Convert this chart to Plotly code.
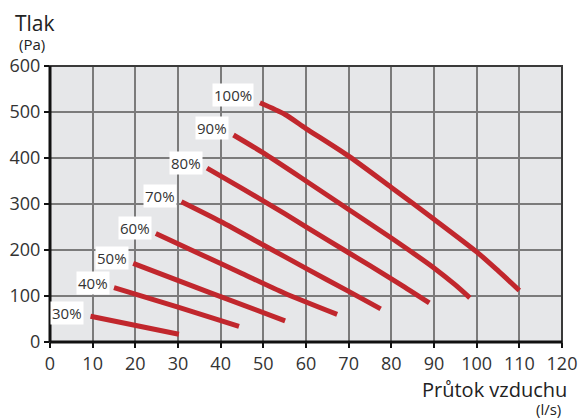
import plotly.graph_objects as go

# Fan speed curves (percent labels), airflow (l/s) vs. pressure (Pa)
labels = ["30%", "40%", "50%", "60%", "70%", "80%", "90%", "100%"]

flow_30 = [9.5, 30.2]
pres_30 = [56, 17]

flow_40 = [15, 30, 44.3]
pres_40 = [118, 76, 34]

flow_50 = [19.5, 37, 55.1]
pres_50 = [171, 109, 46]

flow_60 = [24.8, 35, 45, 55, 67.3]
pres_60 = [236, 192, 149, 106, 60]

flow_70 = [30.8, 40, 50, 60, 70, 77.5]
pres_70 = [305, 262, 211, 160, 110, 72]

flow_80 = [36.8, 45, 55, 65, 75, 82, 88.9]
pres_80 = [378, 334, 279, 222, 166, 126, 85]

flow_90 = [43, 50, 60, 70, 80, 90, 95, 98.4]
pres_90 = [450, 411, 350, 288, 226, 161, 124, 96]

flow_100 = [49.2, 55, 60, 70, 80, 90, 100, 105, 110]
pres_100 = [520, 495, 464, 404, 336, 267, 196, 155, 112]

# label anchor points (right edge of label)
label_x = [8.0, 14.0, 18.5, 23.9, 29.7, 35.9, 42.0, 47.8]
label_y = [63, 128, 183, 248, 317, 389, 465, 537]

x_ticks = list(range(0, 121, 10))
y_ticks = list(range(0, 601, 100))

flows = [flow_30, flow_40, flow_50, flow_60, flow_70, flow_80, flow_90, flow_100]
pres = [pres_30, pres_40, pres_50, pres_60, pres_70, pres_80, pres_90, pres_100]

RED = "#c1272d"
FONT = "Open Sans"
TXT = "#333333"

W, H = 579, 418
L, R, T, B = 50, 17, 66, 76
PW, PH = W - L - R, H - T - B


def paper(xp, yp):
    # pixel position in the page -> paper coordinates of the plot area
    return (xp - L) / PW, (H - B - yp) / PH


fig = go.Figure()
for lab, fx, py in zip(labels, flows, pres):
    fig.add_trace(go.Scatter(
        x=fx, y=py, mode="lines", name=lab,
        line=dict(color=RED, width=5, shape="spline", smoothing=0.7),
        hoverinfo="skip", showlegend=False,
    ))

for lab, lx, ly in zip(labels, label_x, label_y):
    fig.add_annotation(
        x=lx, y=ly, xref="x", yref="y", text=lab, showarrow=False,
        xanchor="right", yanchor="middle",
        font=dict(family=FONT, size=15, color=TXT),
        bgcolor="white", borderpad=1,
    )

for txt, xp, yp, size, anchor in [
    ("Tlak", 13, 23, 21, "left"),
    ("(Pa)", 17, 44, 15, "left"),
    ("Průtok vzduchu", 569, 390, 20, "right"),
    ("(l/s)", 563, 409, 15, "right"),
]:
    xx, yy = paper(xp, yp)
    fig.add_annotation(
        x=xx, y=yy, xref="paper", yref="paper", text=txt, showarrow=False,
        xanchor=anchor, yanchor="middle",
        font=dict(family=FONT, size=size, color="#222222"),
    )

# border: thin gray top/right, thick black left/bottom
fig.add_shape(type="rect", xref="x domain", yref="y domain", x0=0, y0=0, x1=1, y1=1,
              line=dict(color="#3a3a3a", width=2), layer="above")
fig.add_shape(type="line", xref="x domain", yref="y domain", x0=0, y0=0, x1=0, y1=1,
              line=dict(color="#111111", width=3), layer="above")
fig.add_shape(type="line", xref="x domain", yref="y domain", x0=0, y0=0, x1=1, y1=0,
              line=dict(color="#111111", width=3), layer="above")

axis_common = dict(
    showgrid=True, gridcolor="#7b7b7b", gridwidth=1.5, zeroline=False,
    ticks="outside", ticklen=5, tickwidth=1.5, tickcolor="#111111",
    tickfont=dict(family=FONT, size=18, color=TXT), showline=False,
    fixedrange=True, automargin=False,
)

fig.update_layout(
    width=W, height=H,
    margin=dict(l=L, r=R, t=T, b=B, autoexpand=False),
    paper_bgcolor="white",
    plot_bgcolor="#e6e7e9",
    xaxis=dict(range=[0, 120], tickvals=x_ticks,
               ticktext=[str(v) for v in x_ticks], **axis_common),
    yaxis=dict(range=[0, 600], tickvals=y_ticks,
               ticktext=[str(v) for v in y_ticks], **axis_common),
)

fig.write_html("out.html", config={"displayModeBar": False},
               post_script="document.body.style.margin='0';")
